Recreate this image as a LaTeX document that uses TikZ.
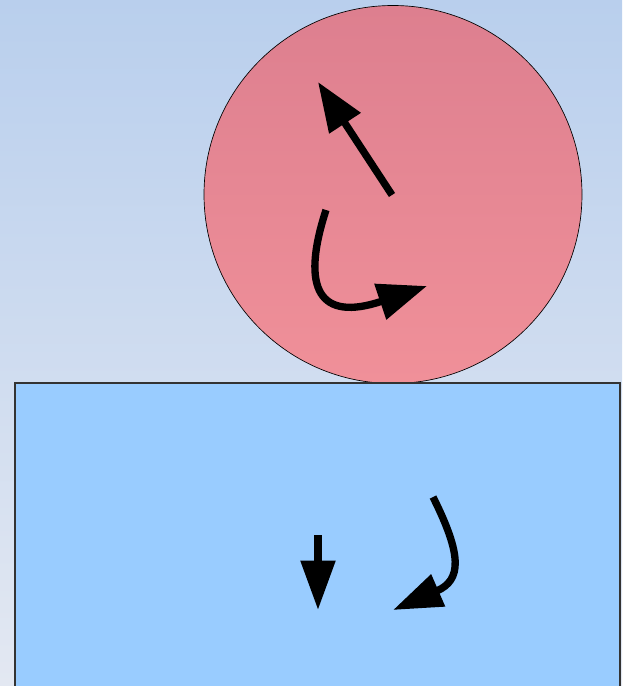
\documentclass[tikz,border=0pt]{standalone}
\usetikzlibrary{arrows.meta}

\definecolor{skytop}{RGB}{185,207,237}
\definecolor{skybottom}{RGB}{227,232,242}
\definecolor{balltop}{RGB}{221,127,143}
\definecolor{ballbottom}{RGB}{240,144,153}
\definecolor{blockblue}{RGB}{153,204,255}

\begin{document}
\begin{tikzpicture}[x=0.75pt, y=-0.75pt,
        motion/.style={line width=5.5pt, -{Triangle[length=37pt, width=27pt]}},
        motionsmall/.style={line width=5.5pt, -{Triangle[length=37pt, width=25pt]}}]
    \useasboundingbox (0,0) rectangle (622,686);
    \clip (0,0) rectangle (622,686);
    \shade[top color=skytop, bottom color=skybottom] (0,0) rectangle (622,686);
    % ball
    \shade[top color=balltop, bottom color=ballbottom, draw=black, line width=0.5pt]
        (393,194.5) circle[radius=189];
    % block
    \draw[fill=blockblue, draw=black!80, line width=0.8pt] (15,700) |- (620,383) -- (620,700);
    % arrows on the ball
    \draw[motion] (392,195) -- (318,82);
    \draw[motion] (326,210) .. controls (300,290) and (320,322) .. (427,286);
    % arrows on the block
    \draw[motionsmall] (318,535) -- (318,610);
    \draw[motionsmall] (433,497) .. controls (462,555) and (462,580) .. (393,610);
\end{tikzpicture}
\end{document}
